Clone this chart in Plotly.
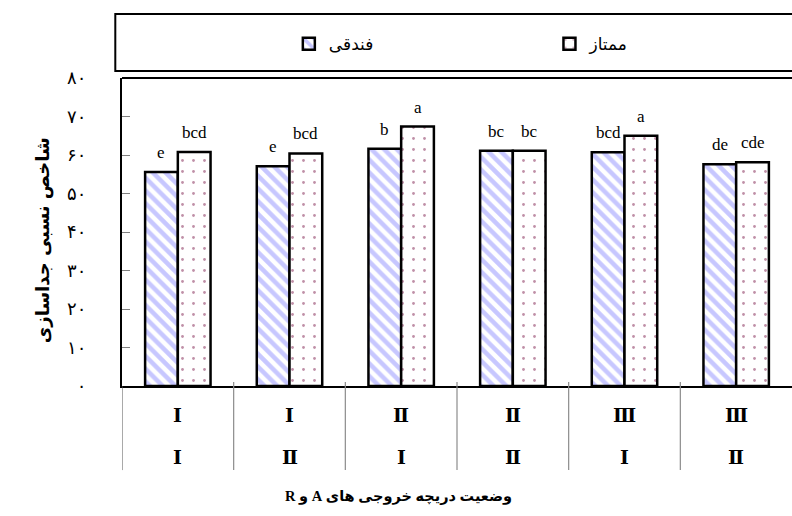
import plotly.graph_objects as go

# Outlet-gate settings (two-row category table under the axis)
gate_row1 = ["Ⅰ", "Ⅰ", "Ⅱ", "Ⅱ", "Ⅲ", "Ⅲ"]
gate_row2 = ["Ⅰ", "Ⅱ", "Ⅰ", "Ⅱ", "Ⅰ", "Ⅱ"]
categories = [f"{a}-{b}" for a, b in zip(gate_row1, gate_row2)]

# Relative separation index per variety
fandoghi = [55.6, 57.1, 61.6, 61.1, 60.7, 57.6]
momtaz = [60.8, 60.4, 67.4, 61.1, 65.0, 58.1]

# Mean-comparison letters
fandoghi_letters = ["e", "e", "b", "bc", "bcd", "de"]
momtaz_letters = ["bcd", "bcd", "a", "bc", "a", "cde"]

series_names = ["فندقی", "ممتاز"]
y_ticks = [0, 10, 20, 30, 40, 50, 60, 70, 80]
persian_digits = "۰۱۲۳۴۵۶۷۸۹"


def to_persian(n):
    return "".join(persian_digits[int(c)] for c in str(n))


def rtl(s):
    # force right-to-left base direction for mixed Persian/Latin strings
    return "\u202b" + s + "\u202c"


y_ticktext = [to_persian(v) for v in y_ticks]

ARABIC_FONT = "DejaVu Sans"
SERIF_FONT = "Liberation Serif, DejaVu Serif, serif"

fig = go.Figure()
fig.add_trace(go.Bar(
    x=categories, y=fandoghi, name=series_names[0], legend="legend",
    marker=dict(
        color="white",
        line=dict(color="black", width=2.5),
        pattern=dict(shape="\\", fgcolor="#8f8fff", bgcolor="white",
                     size=9, solidity=0.5, fillmode="overlay"),
    ),
))
fig.add_trace(go.Bar(
    x=categories, y=momtaz, name=series_names[1], legend="legend2",
    marker=dict(
        color="white",
        line=dict(color="black", width=2.5),
        pattern=dict(shape=".", fgcolor="#7f1f4f", bgcolor="white",
                     size=11, solidity=0.05, fillmode="overlay"),
    ),
))

bargap = 0.414
half = (1 - bargap) / 4  # centre offset of each bar in a group

annotations = []
for i, (a, b) in enumerate(zip(fandoghi, momtaz)):
    annotations.append(dict(x=i - half, y=a, xref="x", yref="y", text=fandoghi_letters[i],
                            showarrow=False, yanchor="bottom", yshift=8,
                            font=dict(family=SERIF_FONT, size=17, color="black")))
    annotations.append(dict(x=i + half, y=b, xref="x", yref="y", text=momtaz_letters[i],
                            showarrow=False, yanchor="bottom", yshift=8,
                            font=dict(family=SERIF_FONT, size=17, color="black")))
    # two-row table of gate settings
    annotations.append(dict(x=i, y=-0.097, xref="x", yref="paper", text=gate_row1[i],
                            showarrow=False, yanchor="middle",
                            font=dict(family=SERIF_FONT, size=19, color="black", weight="bold")))
    annotations.append(dict(x=i, y=-0.231, xref="x", yref="paper", text=gate_row2[i],
                            showarrow=False, yanchor="middle",
                            font=dict(family=SERIF_FONT, size=19, color="black", weight="bold")))

# axis titles
annotations.append(dict(x=-0.137, y=0.474, xref="paper", yref="paper",
                        text=rtl("شاخص نسبی جداسازی"), textangle=-90, showarrow=False,
                        font=dict(family=ARABIC_FONT, size=18, color="black", weight="bold")))
annotations.append(dict(x=0.412, y=-0.392, xref="paper", yref="paper",
                        text=rtl("وضعیت دریچه خروجی های A و R"), showarrow=False,
                        font=dict(family="Liberation Serif, DejaVu Sans", size=14.5,
                                  color="black", weight="bold")))

shapes = []
# separators of the category table
for i in range(5):
    shapes.append(dict(type="line", xref="x", yref="paper", x0=i + 0.5, x1=i + 0.5,
                       y0=0.013, y1=-0.273, line=dict(color="#8c8c8c", width=1.2)))
shapes.append(dict(type="line", xref="x", yref="paper", x0=-0.5, x1=-0.5,
                   y0=0, y1=-0.273, line=dict(color="#555555", width=1)))
# top edge of the plot frame
shapes.append(dict(type="line", xref="paper", yref="paper", x0=0, x1=1.01,
                   y0=1, y1=1, line=dict(color="black", width=2)))
# legend frame
shapes.append(dict(type="rect", xref="paper", yref="paper", x0=-0.010, x1=1.02,
                   y0=(386 - 71) / 308, y1=(386 - 14) / 308,
                   line=dict(color="black", width=2), fillcolor="rgba(0,0,0,0)"))

legend_common = dict(orientation="h", y=1.110, yanchor="middle", xanchor="left",
                     font=dict(family=ARABIC_FONT, size=17, color="black"),
                     bgcolor="rgba(0,0,0,0)", borderwidth=0)

fig.update_layout(
    width=792, height=516,
    margin=dict(l=122, r=0, t=78, b=130),
    paper_bgcolor="white", plot_bgcolor="white",
    barmode="group", bargap=bargap, bargroupgap=0,
    showlegend=True,
    legend=dict(x=0.249, **legend_common),
    legend2=dict(x=0.638, **legend_common),
    xaxis=dict(range=[-0.5, 5.5], showticklabels=False, ticks="",
               showline=True, linecolor="black", linewidth=2, showgrid=False,
               zeroline=False, fixedrange=True),
    yaxis=dict(range=[0, 80], tickvals=y_ticks, ticktext=y_ticktext,
               ticks="inside", ticklen=8, tickcolor="#808080", tickwidth=1,
               ticklabelstandoff=30,
               showline=True, linecolor="black", linewidth=2, showgrid=False,
               zeroline=False,
               tickfont=dict(family=ARABIC_FONT, size=18, color="black")),
    annotations=annotations,
    shapes=shapes,
)

fig.write_html("out.html")
